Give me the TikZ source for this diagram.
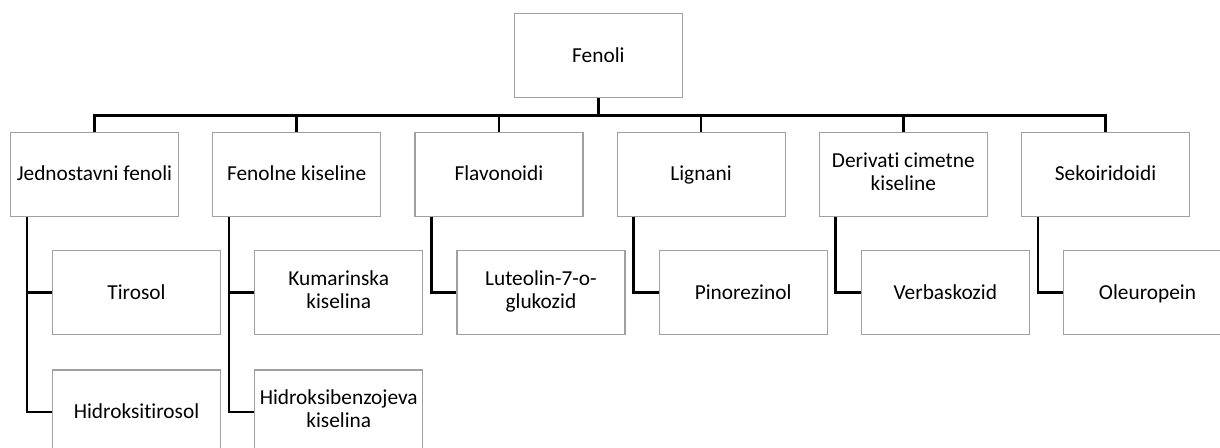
\documentclass[tikz,border=0pt]{standalone}
\usepackage{fontspec}
\setmainfont{Carlito}[RawFeature={-liga}]
\definecolor{boxgray}{RGB}{160,160,160}
\newcommand{\boxstrut}{\rule[-4.5pt]{0pt}{18.8pt}}
\begin{document}
\begin{tikzpicture}[x=0.75pt,y=-0.75pt]

    \tikzset{
      box/.style={
        draw=boxgray,
        line width=0.9pt,
        fill=white,
        minimum width=126pt,
        minimum height=63pt,
        inner sep=2pt,
        align=center,
        font=\fontsize{16}{17.2}\selectfont,
        execute at begin node=\boxstrut,
        execute at end node=\boxstrut,
      },
      link/.style={
        color={black},
        line width=2pt,
      },
    }
    \useasboundingbox (0,0) rectangle (1220,448);
    \clip (0,0) rectangle (1220,448);

	\node[box] (fenoli) at (598.4,55.9) {Fenoli};

	\node[box] (jednostavni) at (94.5,174.3) {Jednostavni fenoli};
	\node[box] (fenolne) at (296.7,174.3) {Fenolne kiseline};
	\node[box] (flavonoidi) at (498.9,174.3) {Flavonoidi};
	\node[box] (lignani) at (701.1,174.3) {Lignani};
	\node[box] (derivati) at (903.3,174.3) {Derivati cimetne\\kiseline};
	\node[box] (sekoiridoidi) at (1105.5,174.3) {Sekoiridoidi};

	\node[box] (tirosol) at (136.5,292.7) {Tirosol};
	\node[box] (hidroksitirosol) at (136.5,412) {Hidroksitirosol};
	\node[box] (kumarinska) at (338.7,292.7) {Kumarinska\\kiselina};
	\node[box] (hidroksibenzojeva) at (338.7,412) {Hidroksibenzojeva\\kiselina};
	\node[box] (luteolin) at (540.9,292.7) {Luteolin-7-o-\\glukozid};
	\node[box] (pinorezinol) at (743.1,292.7) {Pinorezinol};
	\node[box] (verbaskozid) at (945.3,292.7) {Verbaskozid};
	\node[box] (oleuropein) at (1147.5,292.7) {Oleuropein};

	\coordinate (bus) at (0,115.7);
	\draw[link] (fenoli.south) -- (fenoli.south |- bus);
	\draw[link] (jednostavni.north) -- (jednostavni.north |- bus) -- (sekoiridoidi.north |- bus) -- (sekoiridoidi.north);
	\draw[link] (fenolne.north) -- (fenolne.north |- bus);
	\draw[link] (flavonoidi.north) -- (flavonoidi.north |- bus);
	\draw[link] (lignani.north) -- (lignani.north |- bus);
	\draw[link] (derivati.north) -- (derivati.north |- bus);

	\draw[link] ([xshift=12.75pt]jednostavni.south west) |- (tirosol.west);
	\draw[link] ([xshift=12.75pt]jednostavni.south west) |- (hidroksitirosol.west);
	\draw[link] ([xshift=12.75pt]fenolne.south west) |- (kumarinska.west);
	\draw[link] ([xshift=12.75pt]fenolne.south west) |- (hidroksibenzojeva.west);
	\draw[link] ([xshift=12.75pt]flavonoidi.south west) |- (luteolin.west);
	\draw[link] ([xshift=12.75pt]lignani.south west) |- (pinorezinol.west);
	\draw[link] ([xshift=12.75pt]derivati.south west) |- (verbaskozid.west);
	\draw[link] ([xshift=12.75pt]sekoiridoidi.south west) |- (oleuropein.west);

\end{tikzpicture}
\end{document}
